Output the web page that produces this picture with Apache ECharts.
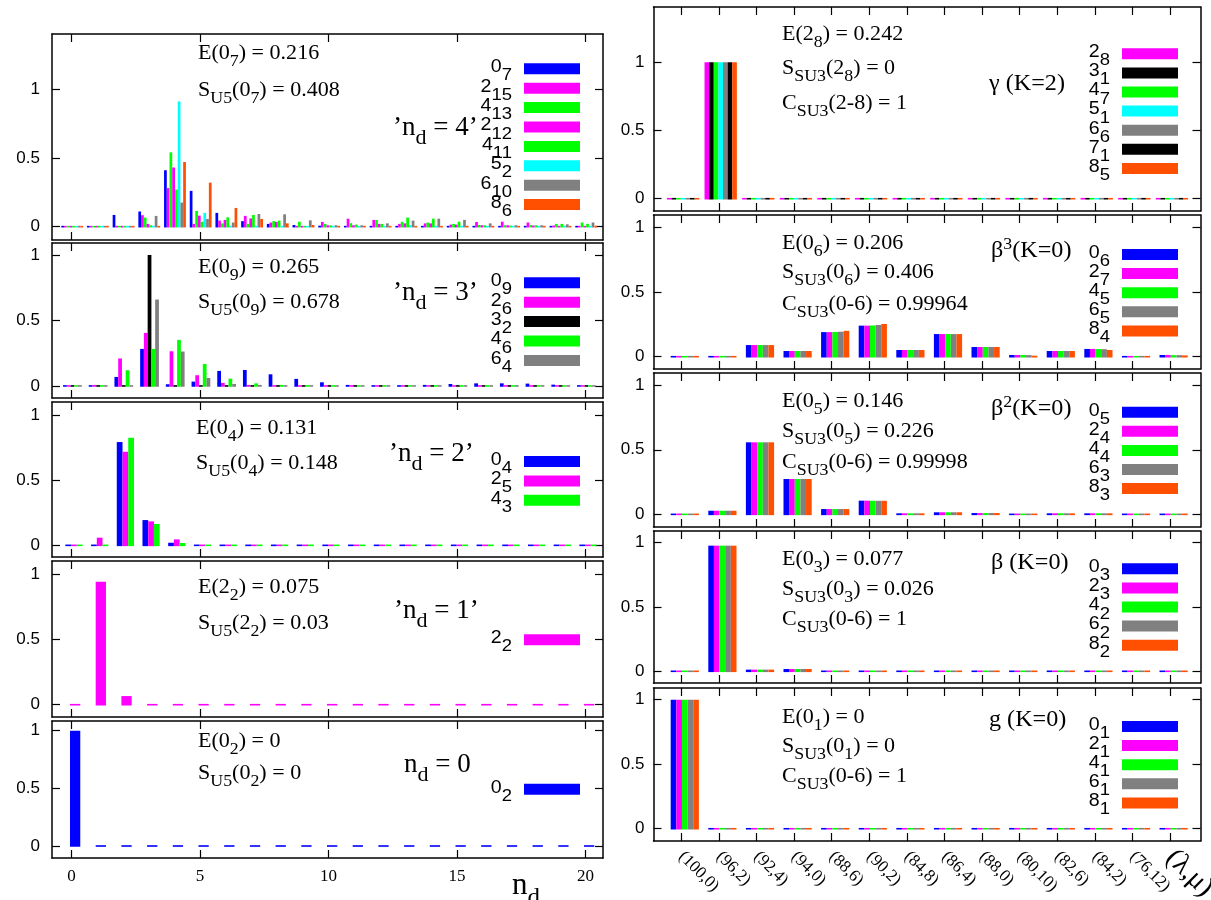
<!DOCTYPE html>
<html>
<head>
<meta charset="utf-8">
<title>U(5) and SU(3) decompositions</title>
<script src="https://cdn.jsdelivr.net/npm/echarts@6.0.0/dist/echarts.min.js"></script>
<style>
html,body{margin:0;padding:0;background:#ffffff;}
#chart{width:1211px;height:900px;}
</style>
</head>
<body>
<div id="chart"></div>
<script>
// ================= axis / category data =================
const ndValues = [0,1,2,3,4,5,6,7,8,9,10,11,12,13,14,15,16,17,18,19,20];
const ndTicks = [0,5,10,15,20];
const probTicks = [0,0.5,1];
const su3Index = [0,1,2,3,4,5,6,7,8,9,10,11,12,13];
const su3Labels = ['(100,0)','(96,2)','(92,4)','(94,0)','(88,6)','(90,2)','(84,8)','(86,4)','(88,0)','(80,10)','(82,6)','(84,2)','(76,12)','(λ,μ)'];

// ================= left column: n_d distributions =================
// 'n_d = 4'
const nd4_0_7  = [0.004,0.003,0.085,0.110,0.410,0.260,0.100,0.040,0.020,0.012,0.007,0.005,0.004,0.005,0.004,0.003,0.003,0.003,0.003,0.004,0.004];
const nd4_2_15 = [0.004,0.003,0.006,0.083,0.280,0.020,0.044,0.078,0.030,0.005,0.034,0.058,0.049,0.020,0.024,0.015,0.034,0.036,0.030,0.008,0.006];
const nd4_4_13 = [0.004,0.003,0.005,0.066,0.540,0.114,0.024,0.020,0.040,0.036,0.020,0.025,0.049,0.035,0.030,0.020,0.012,0.010,0.012,0.020,0.030];
const nd4_2_12 = [0.004,0.003,0.004,0.020,0.430,0.080,0.049,0.060,0.034,0.004,0.010,0.010,0.020,0.024,0.024,0.015,0.010,0.010,0.008,0.006,0.005];
const nd4_4_11 = [0.004,0.003,0.004,0.010,0.270,0.036,0.068,0.085,0.044,0.005,0.010,0.015,0.020,0.066,0.058,0.036,0.010,0.008,0.010,0.020,0.020];
const nd4_5_2  = [0.003,0.003,0.003,0.005,0.910,0.100,0.005,0.003,0.003,0.003,0.003,0.003,0.003,0.010,0.003,0.003,0.003,0.003,0.003,0.003,0.003];
const nd4_6_10 = [0.004,0.003,0.004,0.078,0.175,0.056,0.030,0.092,0.090,0.046,0.010,0.010,0.024,0.044,0.058,0.049,0.024,0.010,0.010,0.017,0.030];
const nd4_8_6  = [0.004,0.003,0.004,0.005,0.470,0.320,0.136,0.056,0.024,0.012,0.005,0.005,0.005,0.005,0.004,0.004,0.004,0.003,0.003,0.003,0.003];
// 'n_d = 3'
const nd3_0_9 = [0.005,0.003,0.069,0.283,0.013,0.033,0.115,0.122,0.089,0.054,0.028,0.008,0.004,0.004,0.008,0.015,0.020,0.020,0.018,0.010,0.005];
const nd3_2_6 = [0.005,0.008,0.210,0.405,0.265,0.082,0.023,0.008,0.004,0.003,0.003,0.004,0.003,0.003,0.004,0.004,0.004,0.004,0.003,0.003,0.003];
const nd3_3_2 = [0,0,0,1.000,0,0,0,0,0,0,0,0,0,0,0,0,0,0,0,0,0];
const nd3_4_6 = [0.003,0.003,0.120,0.283,0.352,0.168,0.056,0.020,0.008,0.003,0.002,0.002,0.002,0.002,0.002,0.002,0.002,0.002,0.002,0.002,0.002];
const nd3_6_4 = [0.002,0.002,0.002,0.660,0.263,0.061,0.015,0.008,0.002,0.002,0.002,0.002,0.002,0.002,0.002,0.002,0.002,0.002,0.002,0.002,0.002];
// 'n_d = 2'
const nd2_0_4 = [0.003,0.003,0.797,0.195,0.020,0.004,0,0,0,0,0,0,0,0,0,0,0,0,0,0,0];
const nd2_2_5 = [0.003,0.059,0.722,0.185,0.046,0.006,0,0,0,0,0,0,0,0,0,0,0,0,0,0,0];
const nd2_4_3 = [0.003,0.005,0.830,0.165,0.018,0.003,0,0,0,0,0,0,0,0,0,0,0,0,0,0,0];
// 'n_d = 1'
const nd1_2_2 = [0,0.940,0.066,0,0,0,0,0,0,0,0,0,0,0,0,0,0,0,0,0,0];
// n_d = 0
const nd0_0_2 = [1.000,0,0,0,0,0,0,0,0,0,0,0,0,0,0,0,0,0,0,0,0];

// ================= right column: SU(3) (λ,μ) distributions =================
// γ (K=2)
const g2_2_8 = [0,1,0,0,0,0,0,0,0,0,0,0,0,0];
const g2_3_1 = [0,1,0,0,0,0,0,0,0,0,0,0,0,0];
const g2_4_7 = [0,1,0,0,0,0,0,0,0,0,0,0,0,0];
const g2_5_1 = [0,1,0,0,0,0,0,0,0,0,0,0,0,0];
const g2_6_6 = [0,1,0,0,0,0,0,0,0,0,0,0,0,0];
const g2_7_1 = [0,1,0,0,0,0,0,0,0,0,0,0,0,0];
const g2_8_5 = [0,1,0,0,0,0,0,0,0,0,0,0,0,0];
// β^3 (K=0)
const b3_0_6 = [0.005,0.005,0.090,0.044,0.190,0.240,0.052,0.175,0.075,0.013,0.044,0.060,0.005,0.013];
const b3_2_7 = [0.005,0.005,0.090,0.044,0.190,0.240,0.052,0.175,0.075,0.013,0.044,0.060,0.005,0.013];
const b3_4_5 = [0.005,0.005,0.090,0.044,0.191,0.241,0.052,0.175,0.075,0.013,0.044,0.059,0.005,0.012];
const b3_6_5 = [0.005,0.005,0.090,0.044,0.193,0.245,0.052,0.175,0.075,0.012,0.044,0.058,0.005,0.012];
const b3_8_4 = [0.005,0.005,0.090,0.044,0.200,0.253,0.052,0.175,0.075,0.008,0.044,0.052,0.005,0.010];
// β^2 (K=0)
const b2_0_5 = [0.005,0.028,0.558,0.274,0.041,0.106,0.008,0.016,0.010,0.003,0.008,0.008,0.003,0.003];
const b2_2_4 = [0.005,0.028,0.558,0.274,0.041,0.106,0.008,0.016,0.010,0.003,0.008,0.008,0.003,0.003];
const b2_4_4 = [0.005,0.028,0.558,0.274,0.041,0.105,0.008,0.016,0.010,0.003,0.008,0.008,0.003,0.003];
const b2_6_3 = [0.005,0.028,0.558,0.274,0.041,0.105,0.008,0.016,0.010,0.003,0.008,0.008,0.003,0.003];
const b2_8_3 = [0.005,0.028,0.558,0.274,0.041,0.105,0.008,0.016,0.010,0.003,0.008,0.008,0.003,0.003];
// β (K=0)
const b1_0_3 = [0.003,0.977,0.013,0.018,0.002,0.002,0.002,0.002,0.002,0.002,0.002,0.002,0.002,0.002];
const b1_2_3 = [0.003,0.977,0.013,0.018,0.002,0.002,0.002,0.002,0.002,0.002,0.002,0.002,0.002,0.002];
const b1_4_2 = [0.003,0.977,0.013,0.018,0.002,0.002,0.002,0.002,0.002,0.002,0.002,0.002,0.002,0.002];
const b1_6_2 = [0.003,0.977,0.013,0.018,0.002,0.002,0.002,0.002,0.002,0.002,0.002,0.002,0.002,0.002];
const b1_8_2 = [0.003,0.977,0.013,0.018,0.002,0.002,0.002,0.002,0.002,0.002,0.002,0.002,0.002,0.002];
// g (K=0)
const gs_0_1 = [1,0,0,0,0,0,0,0,0,0,0,0,0,0];
const gs_2_1 = [1,0,0,0,0,0,0,0,0,0,0,0,0,0];
const gs_4_1 = [1,0,0,0,0,0,0,0,0,0,0,0,0,0];
const gs_6_1 = [1,0,0,0,0,0,0,0,0,0,0,0,0,0];
const gs_8_1 = [1,0,0,0,0,0,0,0,0,0,0,0,0,0];

// ================= annotation texts =================
// [text, x, y(center of capitals), fontSize, scaleX]
const annotations = [
  ['E(0_7) = 0.216', 198, 53.3, 21, 1.05],
  ['S_{U5}(0_7) = 0.408', 198, 91, 21, 1.05],
  ['’n_d = 4’', 393, 128, 27, 1],
  ['E(0_9) = 0.265', 198, 268, 21, 1.05],
  ['S_{U5}(0_9) = 0.678', 198, 302.5, 21, 1.05],
  ['’n_d = 3’', 393, 293, 27, 1],
  ['E(0_4) = 0.131', 196, 428.3, 21, 1.05],
  ['S_{U5}(0_4) = 0.148', 196, 464, 21, 1.05],
  ['’n_d = 2’', 389, 454, 27, 1],
  ['E(2_2) = 0.075', 198, 587.7, 21, 1.05],
  ['S_{U5}(2_2) = 0.03', 198, 623.3, 21, 1.05],
  ['’n_d = 1’', 394, 611, 27, 1],
  ['E(0_2) = 0', 198, 741.7, 21, 1.05],
  ['S_{U5}(0_2) = 0', 198, 773.3, 21, 1.05],
  ['n_d = 0', 404, 765, 27, 1],
  ['E(2_8) = 0.242', 782, 34.3, 21, 1.05],
  ['S_{SU3}(2_8) = 0', 782, 68.3, 21, 1.05],
  ['C_{SU3}(2-8) = 1', 782, 103.3, 21, 1.05],
  ['γ (K=2)', 989, 84.2, 23, 1.05],
  ['E(0_6) = 0.206', 782, 243.8, 21, 1.05],
  ['S_{SU3}(0_6) = 0.406', 782, 273, 21, 1.05],
  ['C_{SU3}(0-6) = 0.99964', 782, 305, 21, 1.05],
  ['β^3(K=0)', 991, 250.8, 23, 1.05],
  ['E(0_5) = 0.146', 782, 402, 21, 1.05],
  ['S_{SU3}(0_5) = 0.226', 782, 431.7, 21, 1.05],
  ['C_{SU3}(0-6) = 0.99998', 782, 462.7, 21, 1.05],
  ['β^2(K=0)', 991, 409, 23, 1.05],
  ['E(0_3) = 0.077', 782, 560, 21, 1.05],
  ['S_{SU3}(0_3) = 0.026', 782, 589.7, 21, 1.05],
  ['C_{SU3}(0-6) = 1', 782, 620, 21, 1.05],
  ['β (K=0)', 991, 563, 23, 1.05],
  ['E(0_1) = 0', 782, 717.7, 21, 1.05],
  ['S_{SU3}(0_1) = 0', 782, 746.7, 21, 1.05],
  ['C_{SU3}(0-6) = 1', 782, 777, 21, 1.05],
  ['g (K=0)', 989, 720, 23, 1.05],
  ['n_d', 512, 886, 31, 1]
];

// ================= styles =================
const COL = {blue:'#0000ff', magenta:'#ff00ff', green:'#00ff00', cyan:'#00ffff', gray:'#808080', black:'#000000', orange:'#ff4f00'};
const SANS = 'Liberation Sans';
const SERIF = 'Liberation Serif';

const panels = [
  {side:'L', top:34, bottom:240, yMin:-0.097, yMax:1.40, group:[-0.40,0.45], iconTop:63.3, xLabels:false,
   items:[['0_7',nd4_0_7,COL.blue],['2_15',nd4_2_15,COL.magenta],['4_13',nd4_4_13,COL.green],['2_12',nd4_2_12,COL.magenta],
          ['4_11',nd4_4_11,COL.green],['5_2',nd4_5_2,COL.cyan],['6_10',nd4_6_10,COL.gray],['8_6',nd4_8_6,COL.orange]]},
  {side:'L', top:243, bottom:398, yMin:-0.092, yMax:1.092, group:[-0.33,0.40], iconTop:277.3, xLabels:false,
   items:[['0_9',nd3_0_9,COL.blue],['2_6',nd3_2_6,COL.magenta],['3_2',nd3_3_2,COL.black],['4_6',nd3_4_6,COL.green],['6_4',nd3_6_4,COL.gray]]},
  {side:'L', top:402, bottom:557, yMin:-0.090, yMax:1.106, group:[-0.24,0.43], iconTop:456, xLabels:false,
   items:[['0_4',nd2_0_4,COL.blue],['2_5',nd2_2_5,COL.magenta],['4_3',nd2_4_3,COL.green]]},
  {side:'L', top:561, bottom:717, yMin:-0.094, yMax:1.099, group:[-0.06,0.34], iconTop:634.3, xLabels:false,
   items:[['2_2',nd1_2_2,COL.magenta]]},
  {side:'L', top:721, bottom:858, yMin:-0.104, yMax:1.084, group:[-0.06,0.34], iconTop:783.7, xLabels:true,
   items:[['0_2',nd0_0_2,COL.blue]]},
  {side:'R', top:7, bottom:211, yMin:-0.090, yMax:1.405, group:[-0.38,0.48], iconTop:48.3, xLabels:false,
   items:[['2_8',g2_2_8,COL.magenta],['3_1',g2_3_1,COL.black],['4_7',g2_4_7,COL.green],['5_1',g2_5_1,COL.cyan],
          ['6_6',g2_6_6,COL.gray],['7_1',g2_7_1,COL.black],['8_5',g2_8_5,COL.orange]]},
  {side:'R', top:215, bottom:369, yMin:-0.095, yMax:1.095, group:[-0.28,0.47], iconTop:249, xLabels:false,
   items:[['0_6',b3_0_6,COL.blue],['2_7',b3_2_7,COL.magenta],['4_5',b3_4_5,COL.green],['6_5',b3_6_5,COL.gray],['8_4',b3_8_4,COL.orange]]},
  {side:'R', top:373, bottom:527, yMin:-0.098, yMax:1.095, group:[-0.28,0.47], iconTop:406.7, xLabels:false,
   items:[['0_5',b2_0_5,COL.blue],['2_4',b2_2_4,COL.magenta],['4_4',b2_4_4,COL.green],['6_3',b2_6_3,COL.gray],['8_3',b2_8_3,COL.orange]]},
  {side:'R', top:531, bottom:683, yMin:-0.091, yMax:1.091, group:[-0.28,0.47], iconTop:563.3, xLabels:false,
   items:[['0_3',b1_0_3,COL.blue],['2_3',b1_2_3,COL.magenta],['4_2',b1_4_2,COL.green],['6_2',b1_6_2,COL.gray],['8_2',b1_8_2,COL.orange]]},
  {side:'R', top:688, bottom:841, yMin:-0.095, yMax:1.091, group:[-0.28,0.47], iconTop:721, xLabels:true,
   items:[['0_1',gs_0_1,COL.blue],['2_1',gs_2_1,COL.magenta],['4_1',gs_4_1,COL.green],['6_1',gs_6_1,COL.gray],['8_1',gs_8_1,COL.orange]]}
];

const sides = {
  L: {left:52, right:603, xMin:-0.76, xMax:20.68, xs:ndValues, ticks:ndTicks, iconRight:580, yLabelMargin:12, spacing:19.4},
  R: {left:653.5, right:1200.5, xMin:-0.737, xMax:13.81, xs:su3Index, ticks:su3Index, iconRight:1178, yLabelMargin:9, spacing:19.1}
};
const ICON_W = 56, ICON_H = 11;

// ---- rich text helpers ----
function toRich(s) {
  let out = '', buf = '', i = 0;
  const flush = () => { if (buf) { out += '{n|' + buf + '}'; buf = ''; } };
  while (i < s.length) {
    const c = s[i];
    if (c === '_' || c === '^') {
      flush();
      let t = ''; i++;
      if (s[i] === '{') { i++; while (i < s.length && s[i] !== '}') { t += s[i]; i++; } i++; }
      else { t = s[i]; i++; }
      out += '{' + (c === '_' ? 's' : 'p') + '|' + t + '}';
    } else { buf += c; i++; }
  }
  flush();
  return out;
}
function serifRich(F) {
  return {
    n: {fontSize:F, fontFamily:SERIF, fill:'#000', padding:[Math.round(0.4*F),0,Math.round(0.3*F),0], verticalAlign:'bottom'},
    s: {fontSize:Math.round(0.8*F), fontFamily:SERIF, fill:'#000', verticalAlign:'bottom'},
    p: {fontSize:Math.round(0.75*F), fontFamily:SERIF, fill:'#000', padding:[0,0,Math.round(0.7*F),0], verticalAlign:'bottom'}
  };
}
function legendRich() {
  return {
    n: {fontSize:17.5, fontFamily:SANS, fill:'#000', padding:[5,0,8,0], verticalAlign:'bottom'},
    s: {fontSize:16.5, fontFamily:SANS, fill:'#000', verticalAlign:'bottom'}
  };
}

function barRenderer(o0, o1, color) {
  return function (params, api) {
    const x = api.value(0), v = api.value(1);
    const p0 = api.coord([x + o0, 0]);
    const p1 = api.coord([x + o1, v]);
    const bottom = p0[1] + 0.8;
    const top = Math.min(p1[1], p0[1] - 0.8);
    return {type:'rect', shape:{x:p0[0], y:top, width:p1[0]-p0[0], height:bottom-top}, style:{fill:color}};
  };
}

const option = {animation:false, backgroundColor:'#ffffff', grid:[], xAxis:[], yAxis:[], series:[], legend:[], graphic:[]};
const lineSt = {color:'#000', width:1.5};

panels.forEach((p, k) => {
  const sd = sides[p.side];
  option.grid.push({left:sd.left, top:p.top, width:sd.right-sd.left, height:p.bottom-p.top, show:false, outerBoundsMode:'none', containLabel:false});
  const xBase = {type:'value', gridIndex:k, min:sd.xMin, max:sd.xMax, splitLine:{show:false},
    axisLine:{show:true, onZero:false, lineStyle:lineSt},
    axisTick:{show:true, inside:true, length:8, customValues:sd.ticks, lineStyle:{color:'#000', width:1.2}}};
  const bottomLabel = p.xLabels ? (p.side === 'L'
      ? {show:true, customValues:sd.ticks, margin:10, color:'#000', fontFamily:SERIF, fontSize:17}
      : {show:true, customValues:sd.ticks, margin:13, rotate:-45, color:'#000', fontFamily:SERIF, fontSize:17,
         formatter: v => { const i = Math.round(v); return i === su3Labels.length-1 ? '{big|' + su3Labels[i] + '}' : su3Labels[i]; },
         rich:{big:{fontSize:28, fontFamily:SERIF, color:'#000'}}})
    : {show:false};
  option.xAxis.push(Object.assign({}, xBase, {position:'bottom', axisLabel:bottomLabel}));
  option.xAxis.push(Object.assign({}, xBase, {position:'top', axisLabel:{show:false}}));
  const yBase = {type:'value', gridIndex:k, min:p.yMin, max:p.yMax, splitLine:{show:false},
    axisLine:{show:true, onZero:false, lineStyle:lineSt},
    axisTick:{show:true, inside:true, length:8, customValues:probTicks, lineStyle:{color:'#000', width:1.2}}};
  option.yAxis.push(Object.assign({}, yBase, {position:'left',
    axisLabel:{show:true, customValues:probTicks, margin:sd.yLabelMargin, color:'#000', fontFamily:SANS, fontSize:17}}));
  option.yAxis.push(Object.assign({}, yBase, {position:'right', axisLabel:{show:false}}));

  const n = p.items.length;
  const w = (p.group[1] - p.group[0]) / n;
  p.items.forEach((it, i) => {
    const [name, vals, color] = it;
    option.series.push({
      type:'custom', name:name, coordinateSystem:'cartesian2d', xAxisIndex:2*k, yAxisIndex:2*k,
      itemStyle:{color:color}, encode:{x:0, y:1},
      renderItem: barRenderer(p.group[0] + i*w, p.group[0] + (i+1)*w, color),
      data: vals.map((v, j) => [sd.xs[j], v])
    });
    // subscripted key label, left of the legend swatch
    const parts = name.split('_');
    option.graphic.push({
      type:'text', silent:true, x: sd.iconRight - ICON_W - 12, y: p.iconTop + i*sd.spacing + ICON_H/2, scaleX:1.12,
      style:{text: '{n|' + parts[0] + '}{s|' + parts[1] + '}', rich: legendRich(), align:'right', verticalAlign:'middle', fill:'#000'}
    });
  });

  // legend swatches (ECharts legend, labels drawn as subscripted text)
  option.legend.push({
    data: p.items.map(it => it[0]), orient:'vertical', align:'right', selectedMode:false,
    right: 1211 - sd.iconRight, top: p.iconTop, padding:0,
    itemWidth:ICON_W, itemHeight:ICON_H, itemGap: sd.spacing - ICON_H, icon:'rect',
    itemStyle:{borderWidth:0},
    formatter: () => '',
    textStyle:{fontSize:11, lineHeight:11}
  });
});

// annotations
annotations.forEach(a => {
  const [txt, x, cy, F, sx] = a;
  option.graphic.push({
    type:'text', x:x, y:cy - 0.05*F, scaleX:sx, silent:true,
    style:{text:toRich(txt), rich:serifRich(F), align:'left', verticalAlign:'middle', fill:'#000'}
  });
});

const chart = echarts.init(document.getElementById('chart'), null, {renderer:'canvas'});
chart.setOption(option);
</script>
</body>
</html>
